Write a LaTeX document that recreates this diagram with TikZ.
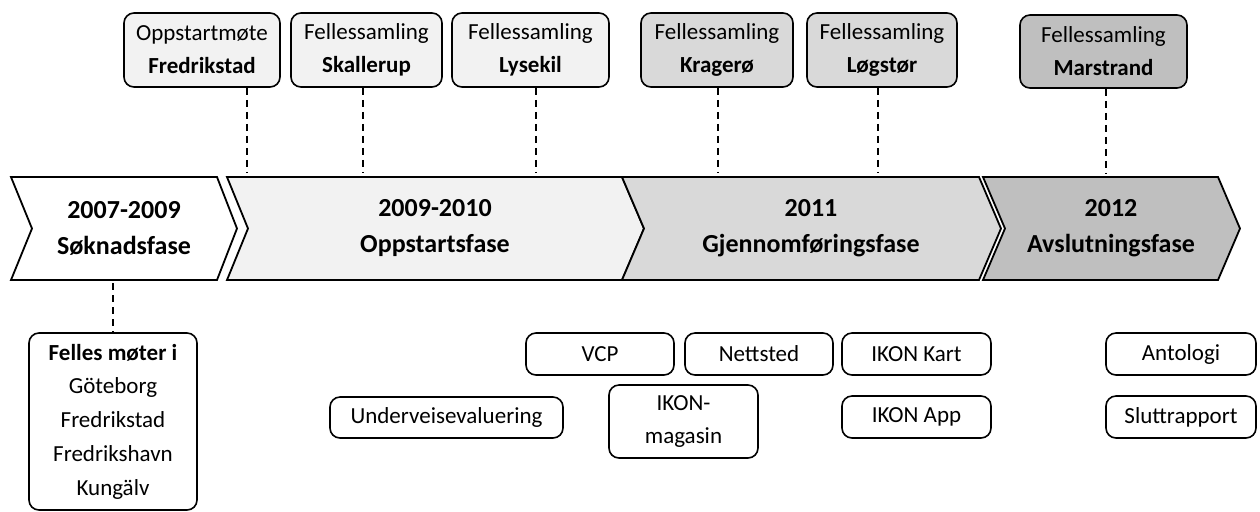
\documentclass[tikz,border=0pt]{standalone}
\usepackage{fontspec}
\setmainfont{Carlito}
\definecolor{gA}{HTML}{F2F2F2}
\definecolor{gB}{HTML}{D9D9D9}
\definecolor{gC}{HTML}{BFBFBF}
\begin{document}
\begin{tikzpicture}[x=0.5pt,y=-0.5pt,
  tbox/.style={draw, rounded corners=5pt, line width=0.8pt, align=center, inner sep=0pt,
    font=\fontsize{11.5}{16.5}\selectfont},
  chev/.style={draw, line width=0.9pt, line join=miter},
  ptext/.style={align=center, inner sep=0pt, font=\fontsize{13}{18}\selectfont\bfseries},
  conn/.style={line width=0.6pt, dash pattern=on 3.5pt off 2.5pt}
]
\useasboundingbox (0,0) rectangle (1260,511);

% phases
\filldraw[chev, fill=white] (11,177) -- (217,177) -- (237,228.5) -- (217,280) -- (11,280) -- (32,228.5) -- cycle;
\filldraw[chev, fill=gA] (227,177) -- (622,177) -- (644,228.5) -- (622,280) -- (227,280) -- (248,228.5) -- cycle;
\filldraw[chev, fill=gB] (622,177) -- (979,177) -- (1001,228.5) -- (979,280) -- (622,280) -- (644,228.5) -- cycle;
\filldraw[chev, fill=gC] (983,177) -- (1218,177) -- (1240,228.5) -- (1218,280) -- (983,280) -- (1005,228.5) -- cycle;

\node[ptext] (p1) at (124,228) {2007-2009\\Søknadsfase};
\node[ptext] (p2) at (435,228) {2009-2010\\Oppstartsfase};
\node[ptext] (p3) at (811,228) {2011\\Gjennomføringsfase};
\node[ptext] (p4) at (1111,228) {2012\\Avslutningsfase};

% top boxes
\node[tbox, fill=gA, minimum width=78pt, minimum height=37pt] (t1) at (202,50) {Oppstartmøte\\\textbf{Fredrikstad}};
\node[tbox, fill=gA, minimum width=75.5pt, minimum height=37pt] (t2) at (366.5,50) {Fellessamling\\\textbf{Skallerup}};
\node[tbox, fill=gA, minimum width=78.5pt, minimum height=37pt] (t3) at (530.5,50) {Fellessamling\\\textbf{Lysekil}};
\node[tbox, fill=gB, minimum width=76pt, minimum height=37pt] (t4) at (717,50) {Fellessamling\\\textbf{Kragerø}};
\node[tbox, fill=gB, minimum width=75pt, minimum height=37pt] (t5) at (882,50) {Fellessamling\\\textbf{Løgstør}};
\node[tbox, fill=gC, minimum width=83.5pt, minimum height=36.5pt] (t6) at (1103.5,51.5) {Fellessamling\\\textbf{Marstrand}};

\coordinate (e1) at (247,173);
\coordinate (e2) at (363,173);
\coordinate (e3) at (536,173);
\coordinate (e4) at (718,173);
\coordinate (e5) at (878,173);
\coordinate (e6) at (1106,173);
\foreach \i in {1,...,6} {\draw[conn] (t\i.south -| e\i) -- (e\i);}

% bottom boxes
\node[tbox, minimum width=84pt, minimum height=88.5pt, font=\fontsize{11.5}{16.9}\selectfont] (b0) at (113,421.5)
  {\textbf{Felles møter i}\\Göteborg\\Fredrikstad\\Fredrikshavn\\Kungälv};
\coordinate (s0) at (113,283);
\draw[conn] (s0) -- (b0.north);

\node[tbox, minimum width=74pt, minimum height=21pt] (vcp) at (600,354) {VCP};
\node[tbox, minimum width=74pt, minimum height=21pt] (net) at (759,354) {Nettsted};
\node[tbox, minimum width=74.5pt, minimum height=21pt] (kart) at (916.5,354) {IKON Kart};
\node[tbox, minimum width=75pt, minimum height=21pt] (anto) at (1181,354) {Antologi};
\node[tbox, minimum width=116.5pt, minimum height=20.5pt] (under) at (446.5,417.5) {Underveisevaluering};
\node[tbox, minimum width=74.5pt, minimum height=36.5pt] (mag) at (683.5,421.5) {IKON-\\magasin};
\node[tbox, minimum width=74.5pt, minimum height=21pt] (app) at (916.5,417) {IKON App};
\node[tbox, minimum width=75pt, minimum height=21pt] (slutt) at (1181,417) {Sluttrapport};
\end{tikzpicture}
\end{document}
